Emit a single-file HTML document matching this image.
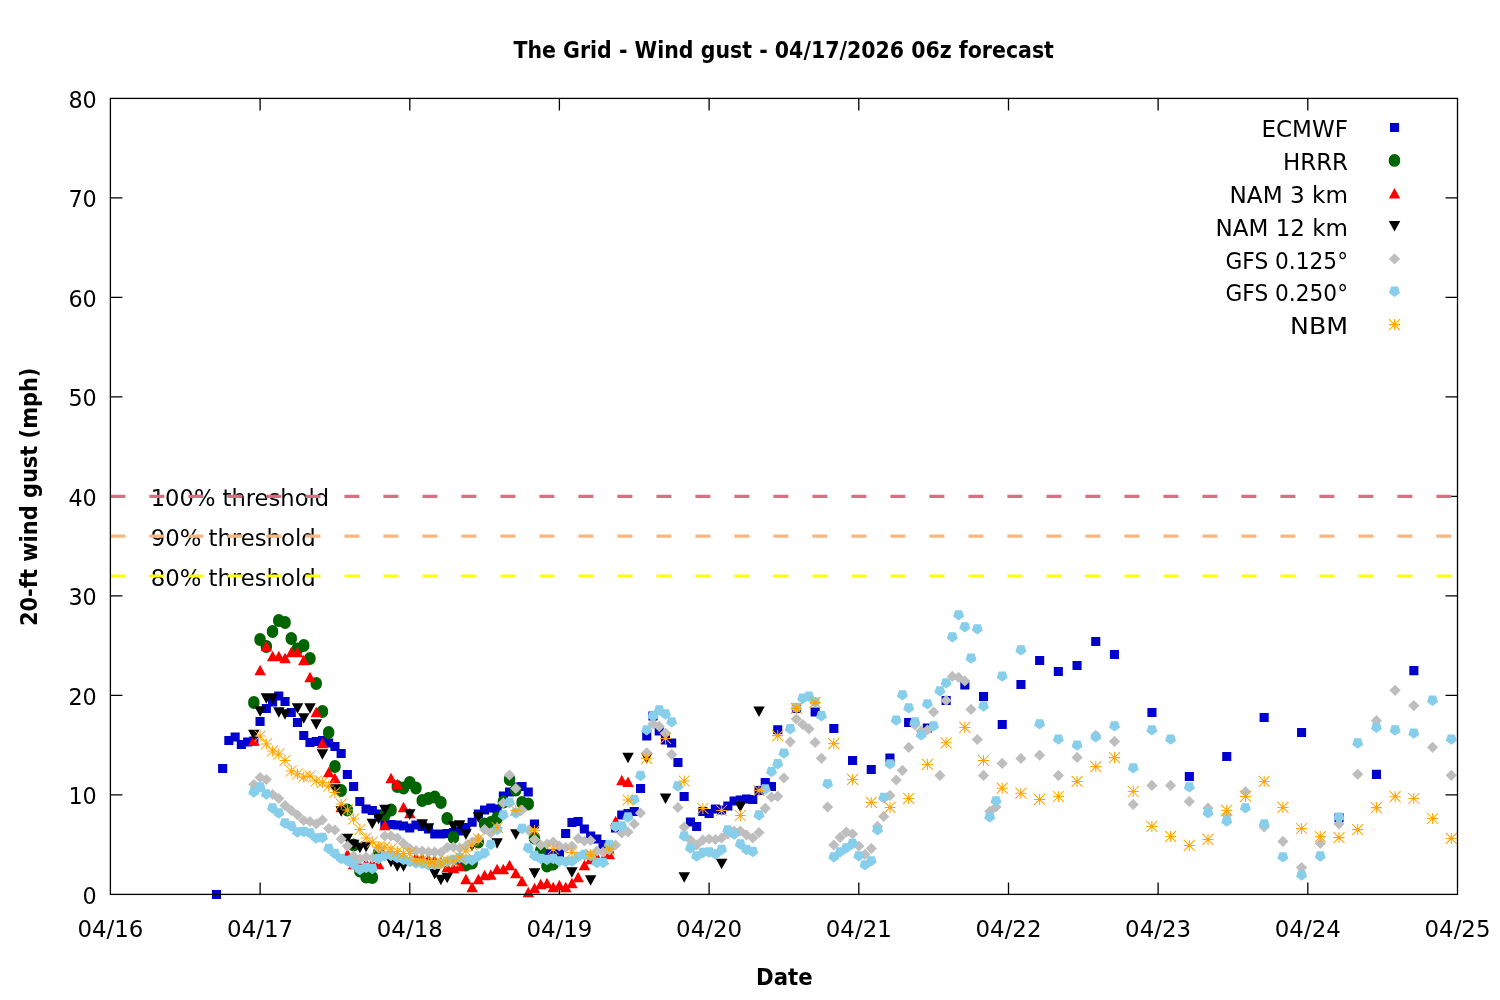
<!DOCTYPE html>
<html lang="en"><head><meta charset="utf-8"><title>The Grid - Wind gust - 04/17/2026 06z forecast</title>
<style>html,body{margin:0;padding:0;background:#fff}body{width:1500px;height:1000px;overflow:hidden}svg{display:block}text{font-family:'DejaVu Sans','Liberation Sans',sans-serif;fill:#000}</style>
</head><body>
<svg width="1500" height="1000" viewBox="0 0 1500 1000">
<rect width="1500" height="1000" fill="#fff"/>
<path d="M260.1 894.4v-12M260.1 98.4v12M409.8 894.4v-12M409.8 98.4v12M559.4 894.4v-12M559.4 98.4v12M709.1 894.4v-12M709.1 98.4v12M858.8 894.4v-12M858.8 98.4v12M1008.5 894.4v-12M1008.5 98.4v12M1158.1 894.4v-12M1158.1 98.4v12M1307.8 894.4v-12M1307.8 98.4v12M110.4 794.9h12M1457.5 794.9h-12M110.4 695.4h12M1457.5 695.4h-12M110.4 595.9h12M1457.5 595.9h-12M110.4 496.4h12M1457.5 496.4h-12M110.4 396.9h12M1457.5 396.9h-12M110.4 297.4h12M1457.5 297.4h-12M110.4 197.9h12M1457.5 197.9h-12" stroke="#000" stroke-width="1.3" fill="none"/>
<g font-size="23.5">
<text x="96.8" y="903.8" text-anchor="end" textLength="14.2" lengthAdjust="spacingAndGlyphs">0</text>
<text x="96.8" y="804.3" text-anchor="end" textLength="28.4" lengthAdjust="spacingAndGlyphs">10</text>
<text x="96.8" y="704.8" text-anchor="end" textLength="28.4" lengthAdjust="spacingAndGlyphs">20</text>
<text x="96.8" y="605.3" text-anchor="end" textLength="28.4" lengthAdjust="spacingAndGlyphs">30</text>
<text x="96.8" y="505.8" text-anchor="end" textLength="28.4" lengthAdjust="spacingAndGlyphs">40</text>
<text x="96.8" y="406.3" text-anchor="end" textLength="28.4" lengthAdjust="spacingAndGlyphs">50</text>
<text x="96.8" y="306.8" text-anchor="end" textLength="28.4" lengthAdjust="spacingAndGlyphs">60</text>
<text x="96.8" y="207.3" text-anchor="end" textLength="28.4" lengthAdjust="spacingAndGlyphs">70</text>
<text x="96.8" y="107.8" text-anchor="end" textLength="28.4" lengthAdjust="spacingAndGlyphs">80</text>
<text x="110.4" y="936.6" text-anchor="middle" textLength="66" lengthAdjust="spacingAndGlyphs">04/16</text>
<text x="260.1" y="936.6" text-anchor="middle" textLength="66" lengthAdjust="spacingAndGlyphs">04/17</text>
<text x="409.8" y="936.6" text-anchor="middle" textLength="66" lengthAdjust="spacingAndGlyphs">04/18</text>
<text x="559.4" y="936.6" text-anchor="middle" textLength="66" lengthAdjust="spacingAndGlyphs">04/19</text>
<text x="709.1" y="936.6" text-anchor="middle" textLength="66" lengthAdjust="spacingAndGlyphs">04/20</text>
<text x="858.8" y="936.6" text-anchor="middle" textLength="66" lengthAdjust="spacingAndGlyphs">04/21</text>
<text x="1008.5" y="936.6" text-anchor="middle" textLength="66" lengthAdjust="spacingAndGlyphs">04/22</text>
<text x="1158.1" y="936.6" text-anchor="middle" textLength="66" lengthAdjust="spacingAndGlyphs">04/23</text>
<text x="1307.8" y="936.6" text-anchor="middle" textLength="66" lengthAdjust="spacingAndGlyphs">04/24</text>
<text x="1457.5" y="936.6" text-anchor="middle" textLength="66" lengthAdjust="spacingAndGlyphs">04/25</text>
</g>
<g font-size="23.5">
<text x="150.7" y="505.9" textLength="178.5" lengthAdjust="spacingAndGlyphs">100% threshold</text>
<text x="150.7" y="545.7" textLength="165" lengthAdjust="spacingAndGlyphs">90% threshold</text>
<text x="150.7" y="585.5" textLength="165" lengthAdjust="spacingAndGlyphs">80% threshold</text>
</g>
<line x1="110.4" y1="496.4" x2="1457.5" y2="496.4" stroke="#dc6e82" stroke-width="3.2" stroke-dasharray="15 24"/>
<line x1="110.4" y1="536.2" x2="1457.5" y2="536.2" stroke="#f7b77f" stroke-width="3.2" stroke-dasharray="15 24"/>
<line x1="110.4" y1="576" x2="1457.5" y2="576" stroke="#ffff00" stroke-width="3.2" stroke-dasharray="15 24"/>
<g font-size="23.5" text-anchor="end">
<text x="1348" y="137.1" textLength="86.5" lengthAdjust="spacingAndGlyphs">ECMWF</text>
<text x="1348" y="169.9" textLength="65" lengthAdjust="spacingAndGlyphs">HRRR</text>
<text x="1348" y="202.8" textLength="118.5" lengthAdjust="spacingAndGlyphs">NAM 3 km</text>
<text x="1348" y="235.6" textLength="132.5" lengthAdjust="spacingAndGlyphs">NAM 12 km</text>
<text x="1348" y="268.5" textLength="122.5" lengthAdjust="spacingAndGlyphs">GFS 0.125°</text>
<text x="1348" y="301.3" textLength="122.5" lengthAdjust="spacingAndGlyphs">GFS 0.250°</text>
<text x="1348" y="334.1" textLength="58" lengthAdjust="spacingAndGlyphs">NBM</text>
</g>
<path d="M1390 123h9.1v9.1h-9.1zM211.9 890h9.1v9.1h-9.1zM218.1 764h9.1v9.1h-9.1zM224.3 736h9.1v9.1h-9.1zM230.6 732.5h9.1v9.1h-9.1zM236.8 740h9.1v9.1h-9.1zM243.1 737.5h9.1v9.1h-9.1zM249.3 736.5h9.1v9.1h-9.1zM255.5 717h9.1v9.1h-9.1zM261.8 704h9.1v9.1h-9.1zM268 697.5h9.1v9.1h-9.1zM274.2 691.5h9.1v9.1h-9.1zM280.5 697h9.1v9.1h-9.1zM286.7 708h9.1v9.1h-9.1zM292.9 718h9.1v9.1h-9.1zM299.2 731h9.1v9.1h-9.1zM305.4 738h9.1v9.1h-9.1zM311.7 737h9.1v9.1h-9.1zM317.9 736h9.1v9.1h-9.1zM324.1 738.5h9.1v9.1h-9.1zM330.4 742h9.1v9.1h-9.1zM336.6 749h9.1v9.1h-9.1zM342.8 770h9.1v9.1h-9.1zM349.1 782h9.1v9.1h-9.1zM355.3 797h9.1v9.1h-9.1zM361.5 804.5h9.1v9.1h-9.1zM367.8 806h9.1v9.1h-9.1zM374 809.5h9.1v9.1h-9.1zM380.3 819.5h9.1v9.1h-9.1zM386.5 820h9.1v9.1h-9.1zM392.7 820.5h9.1v9.1h-9.1zM399 821.5h9.1v9.1h-9.1zM405.2 823.5h9.1v9.1h-9.1zM411.4 820.5h9.1v9.1h-9.1zM417.7 822h9.1v9.1h-9.1zM423.9 824.5h9.1v9.1h-9.1zM430.2 829.5h9.1v9.1h-9.1zM436.4 829.5h9.1v9.1h-9.1zM442.6 829h9.1v9.1h-9.1zM448.9 828h9.1v9.1h-9.1zM455.1 826.5h9.1v9.1h-9.1zM461.3 823.1h9.1v9.1h-9.1zM467.6 817.7h9.1v9.1h-9.1zM473.8 809.5h9.1v9.1h-9.1zM480 805.5h9.1v9.1h-9.1zM486.3 803.5h9.1v9.1h-9.1zM492.5 804.5h9.1v9.1h-9.1zM498.8 791.5h9.1v9.1h-9.1zM505 787.5h9.1v9.1h-9.1zM511.2 782.5h9.1v9.1h-9.1zM517.5 782h9.1v9.1h-9.1zM523.7 787.5h9.1v9.1h-9.1zM529.9 819.5h9.1v9.1h-9.1zM536.2 847.5h9.1v9.1h-9.1zM542.4 849h9.1v9.1h-9.1zM548.6 849h9.1v9.1h-9.1zM554.9 849h9.1v9.1h-9.1zM561.1 829h9.1v9.1h-9.1zM567.4 818h9.1v9.1h-9.1zM573.6 817h9.1v9.1h-9.1zM579.8 824.5h9.1v9.1h-9.1zM586.1 831.5h9.1v9.1h-9.1zM592.3 834.5h9.1v9.1h-9.1zM598.5 840h9.1v9.1h-9.1zM604.8 844.5h9.1v9.1h-9.1zM611 823.5h9.1v9.1h-9.1zM617.2 810.5h9.1v9.1h-9.1zM623.5 809.1h9.1v9.1h-9.1zM629.7 807h9.1v9.1h-9.1zM636 784h9.1v9.1h-9.1zM642.2 731.5h9.1v9.1h-9.1zM648.4 711.5h9.1v9.1h-9.1zM654.7 726.5h9.1v9.1h-9.1zM660.9 735.5h9.1v9.1h-9.1zM667.1 738.5h9.1v9.1h-9.1zM673.4 757.9h9.1v9.1h-9.1zM679.6 792h9.1v9.1h-9.1zM685.9 817.5h9.1v9.1h-9.1zM692.1 822h9.1v9.1h-9.1zM698.3 807h9.1v9.1h-9.1zM704.6 809h9.1v9.1h-9.1zM710.8 804.5h9.1v9.1h-9.1zM717 805.5h9.1v9.1h-9.1zM723.3 801.5h9.1v9.1h-9.1zM729.5 796.5h9.1v9.1h-9.1zM735.7 795.5h9.1v9.1h-9.1zM742 794.5h9.1v9.1h-9.1zM748.2 795h9.1v9.1h-9.1zM754.5 786h9.1v9.1h-9.1zM760.7 778h9.1v9.1h-9.1zM766.9 782h9.1v9.1h-9.1zM773.2 725.2h9.1v9.1h-9.1zM791.9 703.8h9.1v9.1h-9.1zM810.6 707.5h9.1v9.1h-9.1zM829.3 723.9h9.1v9.1h-9.1zM848 755.9h9.1v9.1h-9.1zM866.7 764.9h9.1v9.1h-9.1zM885.4 753.5h9.1v9.1h-9.1zM904.1 717.9h9.1v9.1h-9.1zM922.8 723.5h9.1v9.1h-9.1zM941.6 695.9h9.1v9.1h-9.1zM960.3 680.5h9.1v9.1h-9.1zM979 691.9h9.1v9.1h-9.1zM997.7 719.9h9.1v9.1h-9.1zM1016.4 679.9h9.1v9.1h-9.1zM1035.1 655.9h9.1v9.1h-9.1zM1053.8 666.9h9.1v9.1h-9.1zM1072.5 660.9h9.1v9.1h-9.1zM1091.2 636.9h9.1v9.1h-9.1zM1109.9 649.9h9.1v9.1h-9.1zM1147.4 707.9h9.1v9.1h-9.1zM1184.8 771.9h9.1v9.1h-9.1zM1222.2 751.9h9.1v9.1h-9.1zM1259.6 712.9h9.1v9.1h-9.1zM1297 727.9h9.1v9.1h-9.1zM1334.5 813.2h9.1v9.1h-9.1zM1371.9 769.8h9.1v9.1h-9.1zM1409.3 666.1h9.1v9.1h-9.1z" fill="#0000cd"/>
<path d="M1388.8 160.4a5.7 5.7 0 1 0 11.3 0a5.7 5.7 0 1 0 -11.3 0zM248.2 702.5a5.7 5.7 0 1 0 11.3 0a5.7 5.7 0 1 0 -11.3 0zM254.4 639.5a5.7 5.7 0 1 0 11.3 0a5.7 5.7 0 1 0 -11.3 0zM260.7 646.5a5.7 5.7 0 1 0 11.3 0a5.7 5.7 0 1 0 -11.3 0zM266.9 631.5a5.7 5.7 0 1 0 11.3 0a5.7 5.7 0 1 0 -11.3 0zM273.1 620.5a5.7 5.7 0 1 0 11.3 0a5.7 5.7 0 1 0 -11.3 0zM279.4 622.5a5.7 5.7 0 1 0 11.3 0a5.7 5.7 0 1 0 -11.3 0zM285.6 638.5a5.7 5.7 0 1 0 11.3 0a5.7 5.7 0 1 0 -11.3 0zM291.8 649a5.7 5.7 0 1 0 11.3 0a5.7 5.7 0 1 0 -11.3 0zM298.1 645.5a5.7 5.7 0 1 0 11.3 0a5.7 5.7 0 1 0 -11.3 0zM304.3 658.5a5.7 5.7 0 1 0 11.3 0a5.7 5.7 0 1 0 -11.3 0zM310.6 683.5a5.7 5.7 0 1 0 11.3 0a5.7 5.7 0 1 0 -11.3 0zM316.8 711.5a5.7 5.7 0 1 0 11.3 0a5.7 5.7 0 1 0 -11.3 0zM323 732.5a5.7 5.7 0 1 0 11.3 0a5.7 5.7 0 1 0 -11.3 0zM329.3 766.5a5.7 5.7 0 1 0 11.3 0a5.7 5.7 0 1 0 -11.3 0zM335.5 790.5a5.7 5.7 0 1 0 11.3 0a5.7 5.7 0 1 0 -11.3 0zM341.7 810a5.7 5.7 0 1 0 11.3 0a5.7 5.7 0 1 0 -11.3 0zM348 845a5.7 5.7 0 1 0 11.3 0a5.7 5.7 0 1 0 -11.3 0zM354.2 871a5.7 5.7 0 1 0 11.3 0a5.7 5.7 0 1 0 -11.3 0zM360.4 877a5.7 5.7 0 1 0 11.3 0a5.7 5.7 0 1 0 -11.3 0zM366.7 877.5a5.7 5.7 0 1 0 11.3 0a5.7 5.7 0 1 0 -11.3 0zM372.9 853a5.7 5.7 0 1 0 11.3 0a5.7 5.7 0 1 0 -11.3 0zM379.2 815a5.7 5.7 0 1 0 11.3 0a5.7 5.7 0 1 0 -11.3 0zM385.4 810a5.7 5.7 0 1 0 11.3 0a5.7 5.7 0 1 0 -11.3 0zM391.6 786.5a5.7 5.7 0 1 0 11.3 0a5.7 5.7 0 1 0 -11.3 0zM397.9 788a5.7 5.7 0 1 0 11.3 0a5.7 5.7 0 1 0 -11.3 0zM404.1 782.5a5.7 5.7 0 1 0 11.3 0a5.7 5.7 0 1 0 -11.3 0zM410.3 788a5.7 5.7 0 1 0 11.3 0a5.7 5.7 0 1 0 -11.3 0zM416.6 800.5a5.7 5.7 0 1 0 11.3 0a5.7 5.7 0 1 0 -11.3 0zM422.8 798.5a5.7 5.7 0 1 0 11.3 0a5.7 5.7 0 1 0 -11.3 0zM429.1 797a5.7 5.7 0 1 0 11.3 0a5.7 5.7 0 1 0 -11.3 0zM435.3 802.5a5.7 5.7 0 1 0 11.3 0a5.7 5.7 0 1 0 -11.3 0zM441.5 818.5a5.7 5.7 0 1 0 11.3 0a5.7 5.7 0 1 0 -11.3 0zM447.8 837.5a5.7 5.7 0 1 0 11.3 0a5.7 5.7 0 1 0 -11.3 0zM454 860a5.7 5.7 0 1 0 11.3 0a5.7 5.7 0 1 0 -11.3 0zM460.2 865a5.7 5.7 0 1 0 11.3 0a5.7 5.7 0 1 0 -11.3 0zM466.5 863a5.7 5.7 0 1 0 11.3 0a5.7 5.7 0 1 0 -11.3 0zM472.7 842a5.7 5.7 0 1 0 11.3 0a5.7 5.7 0 1 0 -11.3 0zM478.9 824a5.7 5.7 0 1 0 11.3 0a5.7 5.7 0 1 0 -11.3 0zM485.2 822.5a5.7 5.7 0 1 0 11.3 0a5.7 5.7 0 1 0 -11.3 0zM491.4 818a5.7 5.7 0 1 0 11.3 0a5.7 5.7 0 1 0 -11.3 0zM497.7 802a5.7 5.7 0 1 0 11.3 0a5.7 5.7 0 1 0 -11.3 0zM503.9 779.5a5.7 5.7 0 1 0 11.3 0a5.7 5.7 0 1 0 -11.3 0zM510.1 790a5.7 5.7 0 1 0 11.3 0a5.7 5.7 0 1 0 -11.3 0zM516.4 802.5a5.7 5.7 0 1 0 11.3 0a5.7 5.7 0 1 0 -11.3 0zM522.6 804a5.7 5.7 0 1 0 11.3 0a5.7 5.7 0 1 0 -11.3 0zM528.8 838a5.7 5.7 0 1 0 11.3 0a5.7 5.7 0 1 0 -11.3 0zM535.1 850.5a5.7 5.7 0 1 0 11.3 0a5.7 5.7 0 1 0 -11.3 0zM541.3 866a5.7 5.7 0 1 0 11.3 0a5.7 5.7 0 1 0 -11.3 0zM547.5 864a5.7 5.7 0 1 0 11.3 0a5.7 5.7 0 1 0 -11.3 0z" fill="#006400"/>
<path d="M1394.5 188l5.8 10.5h-11.5zM253.8 735.2l5.8 10.5h-11.5zM260.1 664.8l5.8 10.5h-11.5zM266.3 640.8l5.8 10.5h-11.5zM272.6 650.8l5.8 10.5h-11.5zM278.8 650.8l5.8 10.5h-11.5zM285 652.8l5.8 10.5h-11.5zM291.3 646.8l5.8 10.5h-11.5zM297.5 646.8l5.8 10.5h-11.5zM303.7 654.8l5.8 10.5h-11.5zM310 671.8l5.8 10.5h-11.5zM316.2 706.8l5.8 10.5h-11.5zM322.4 737.8l5.8 10.5h-11.5zM328.7 766.8l5.8 10.5h-11.5zM334.9 772.8l5.8 10.5h-11.5zM341.2 801.8l5.8 10.5h-11.5zM347.4 848.8l5.8 10.5h-11.5zM353.6 858.8l5.8 10.5h-11.5zM359.9 860.8l5.8 10.5h-11.5zM366.1 857.8l5.8 10.5h-11.5zM372.3 857.8l5.8 10.5h-11.5zM378.6 858.8l5.8 10.5h-11.5zM384.8 819.8l5.8 10.5h-11.5zM391 772.8l5.8 10.5h-11.5zM397.3 778.8l5.8 10.5h-11.5zM403.5 801.8l5.8 10.5h-11.5zM409.8 807.8l5.8 10.5h-11.5zM416 851.8l5.8 10.5h-11.5zM422.2 852.8l5.8 10.5h-11.5zM428.5 853.8l5.8 10.5h-11.5zM434.7 854.8l5.8 10.5h-11.5zM440.9 856.8l5.8 10.5h-11.5zM447.2 861.8l5.8 10.5h-11.5zM453.4 862.8l5.8 10.5h-11.5zM459.6 860.8l5.8 10.5h-11.5zM465.9 873.8l5.8 10.5h-11.5zM472.1 881.8l5.8 10.5h-11.5zM478.4 873.8l5.8 10.5h-11.5zM484.6 869.8l5.8 10.5h-11.5zM490.8 869.2l5.8 10.5h-11.5zM497.1 863.8l5.8 10.5h-11.5zM503.3 863.8l5.8 10.5h-11.5zM509.5 859.8l5.8 10.5h-11.5zM515.8 867.8l5.8 10.5h-11.5zM522 875.8l5.8 10.5h-11.5zM528.3 886.8l5.8 10.5h-11.5zM534.5 882.8l5.8 10.5h-11.5zM540.7 878.8l5.8 10.5h-11.5zM547 877.8l5.8 10.5h-11.5zM553.2 881.8l5.8 10.5h-11.5zM559.4 879.8l5.8 10.5h-11.5zM565.7 881.8l5.8 10.5h-11.5zM571.9 877.8l5.8 10.5h-11.5zM578.1 871.8l5.8 10.5h-11.5zM584.4 859.8l5.8 10.5h-11.5zM590.6 853.8l5.8 10.5h-11.5zM596.9 851.8l5.8 10.5h-11.5zM603.1 853.8l5.8 10.5h-11.5zM609.3 848.8l5.8 10.5h-11.5zM615.6 815.8l5.8 10.5h-11.5zM621.8 774.8l5.8 10.5h-11.5zM628 776.4l5.8 10.5h-11.5z" fill="#ff0000"/>
<path d="M1394.5 231.4l5.8 -10.5h-11.5zM253.8 740.2l5.8 -10.5h-11.5zM260.1 716.8l5.8 -10.5h-11.5zM266.3 703.8l5.8 -10.5h-11.5zM272.6 703.8l5.8 -10.5h-11.5zM278.8 717.8l5.8 -10.5h-11.5zM285 719.8l5.8 -10.5h-11.5zM297.5 713.8l5.8 -10.5h-11.5zM303.7 723.8l5.8 -10.5h-11.5zM310 713.8l5.8 -10.5h-11.5zM316.2 729.8l5.8 -10.5h-11.5zM322.4 759.8l5.8 -10.5h-11.5zM334.9 794.8l5.8 -10.5h-11.5zM341.2 816.8l5.8 -10.5h-11.5zM347.4 844.2l5.8 -10.5h-11.5zM353.6 850.2l5.8 -10.5h-11.5zM359.9 853.2l5.8 -10.5h-11.5zM366.1 852.2l5.8 -10.5h-11.5zM372.3 829.2l5.8 -10.5h-11.5zM378.6 824.2l5.8 -10.5h-11.5zM384.8 815.2l5.8 -10.5h-11.5zM391 867.2l5.8 -10.5h-11.5zM397.3 871.8l5.8 -10.5h-11.5zM403.5 871.8l5.8 -10.5h-11.5zM409.8 819.8l5.8 -10.5h-11.5zM422.2 829.8l5.8 -10.5h-11.5zM428.5 833.8l5.8 -10.5h-11.5zM434.7 879.2l5.8 -10.5h-11.5zM440.9 885.2l5.8 -10.5h-11.5zM447.2 883.2l5.8 -10.5h-11.5zM453.4 831.8l5.8 -10.5h-11.5zM459.6 830.8l5.8 -10.5h-11.5zM465.9 839.8l5.8 -10.5h-11.5zM472.1 851.2l5.8 -10.5h-11.5zM478.4 822.8l5.8 -10.5h-11.5zM497.1 848.8l5.8 -10.5h-11.5zM515.8 839.8l5.8 -10.5h-11.5zM534.5 878.8l5.8 -10.5h-11.5zM571.9 877.8l5.8 -10.5h-11.5zM590.6 885.8l5.8 -10.5h-11.5zM628 763.2l5.8 -10.5h-11.5zM646.7 763.6l5.8 -10.5h-11.5zM665.5 804l5.8 -10.5h-11.5zM684.2 882.8l5.8 -10.5h-11.5zM721.6 869.2l5.8 -10.5h-11.5zM740.3 812.2l5.8 -10.5h-11.5zM759 717l5.8 -10.5h-11.5z" fill="#000000"/>
<path d="M1394.5 253.4l5.6 5.6l-5.6 5.6l-5.6 -5.6zM253.8 778.9l5.6 5.6l-5.6 5.6l-5.6 -5.6zM260.1 771.9l5.6 5.6l-5.6 5.6l-5.6 -5.6zM266.3 773.9l5.6 5.6l-5.6 5.6l-5.6 -5.6zM272.6 788.9l5.6 5.6l-5.6 5.6l-5.6 -5.6zM278.8 792.9l5.6 5.6l-5.6 5.6l-5.6 -5.6zM285 799.9l5.6 5.6l-5.6 5.6l-5.6 -5.6zM291.3 804.9l5.6 5.6l-5.6 5.6l-5.6 -5.6zM297.5 809.4l5.6 5.6l-5.6 5.6l-5.6 -5.6zM303.7 814.9l5.6 5.6l-5.6 5.6l-5.6 -5.6zM310 815.9l5.6 5.6l-5.6 5.6l-5.6 -5.6zM316.2 818.4l5.6 5.6l-5.6 5.6l-5.6 -5.6zM322.4 814.4l5.6 5.6l-5.6 5.6l-5.6 -5.6zM328.7 822.9l5.6 5.6l-5.6 5.6l-5.6 -5.6zM334.9 824.4l5.6 5.6l-5.6 5.6l-5.6 -5.6zM341.2 833.4l5.6 5.6l-5.6 5.6l-5.6 -5.6zM347.4 840.4l5.6 5.6l-5.6 5.6l-5.6 -5.6zM353.6 850.4l5.6 5.6l-5.6 5.6l-5.6 -5.6zM359.9 853.4l5.6 5.6l-5.6 5.6l-5.6 -5.6zM366.1 851.4l5.6 5.6l-5.6 5.6l-5.6 -5.6zM372.3 852.4l5.6 5.6l-5.6 5.6l-5.6 -5.6zM378.6 842.4l5.6 5.6l-5.6 5.6l-5.6 -5.6zM384.8 830.4l5.6 5.6l-5.6 5.6l-5.6 -5.6zM391 830.4l5.6 5.6l-5.6 5.6l-5.6 -5.6zM397.3 832.4l5.6 5.6l-5.6 5.6l-5.6 -5.6zM403.5 837.9l5.6 5.6l-5.6 5.6l-5.6 -5.6zM409.8 842.9l5.6 5.6l-5.6 5.6l-5.6 -5.6zM416 844.9l5.6 5.6l-5.6 5.6l-5.6 -5.6zM422.2 845.4l5.6 5.6l-5.6 5.6l-5.6 -5.6zM428.5 846.4l5.6 5.6l-5.6 5.6l-5.6 -5.6zM434.7 846.4l5.6 5.6l-5.6 5.6l-5.6 -5.6zM440.9 846.9l5.6 5.6l-5.6 5.6l-5.6 -5.6zM447.2 841.9l5.6 5.6l-5.6 5.6l-5.6 -5.6zM453.4 841.4l5.6 5.6l-5.6 5.6l-5.6 -5.6zM459.6 842.4l5.6 5.6l-5.6 5.6l-5.6 -5.6zM465.9 840.4l5.6 5.6l-5.6 5.6l-5.6 -5.6zM472.1 836.4l5.6 5.6l-5.6 5.6l-5.6 -5.6zM478.4 832.8l5.6 5.6l-5.6 5.6l-5.6 -5.6zM484.6 823.9l5.6 5.6l-5.6 5.6l-5.6 -5.6zM490.8 827.4l5.6 5.6l-5.6 5.6l-5.6 -5.6zM497.1 822.4l5.6 5.6l-5.6 5.6l-5.6 -5.6zM503.3 797.4l5.6 5.6l-5.6 5.6l-5.6 -5.6zM509.5 769.4l5.6 5.6l-5.6 5.6l-5.6 -5.6zM515.8 782.9l5.6 5.6l-5.6 5.6l-5.6 -5.6zM522 804.4l5.6 5.6l-5.6 5.6l-5.6 -5.6zM528.3 824.4l5.6 5.6l-5.6 5.6l-5.6 -5.6zM534.5 833.9l5.6 5.6l-5.6 5.6l-5.6 -5.6zM540.7 839.4l5.6 5.6l-5.6 5.6l-5.6 -5.6zM547 838.4l5.6 5.6l-5.6 5.6l-5.6 -5.6zM553.2 836.4l5.6 5.6l-5.6 5.6l-5.6 -5.6zM559.4 840.4l5.6 5.6l-5.6 5.6l-5.6 -5.6zM565.7 841.9l5.6 5.6l-5.6 5.6l-5.6 -5.6zM571.9 840.4l5.6 5.6l-5.6 5.6l-5.6 -5.6zM578.1 832.9l5.6 5.6l-5.6 5.6l-5.6 -5.6zM584.4 835.4l5.6 5.6l-5.6 5.6l-5.6 -5.6zM590.6 834.9l5.6 5.6l-5.6 5.6l-5.6 -5.6zM596.9 845.4l5.6 5.6l-5.6 5.6l-5.6 -5.6zM603.1 846.4l5.6 5.6l-5.6 5.6l-5.6 -5.6zM609.3 844.4l5.6 5.6l-5.6 5.6l-5.6 -5.6zM615.6 839.4l5.6 5.6l-5.6 5.6l-5.6 -5.6zM621.8 827.4l5.6 5.6l-5.6 5.6l-5.6 -5.6zM628 826.4l5.6 5.6l-5.6 5.6l-5.6 -5.6zM634.3 818.4l5.6 5.6l-5.6 5.6l-5.6 -5.6zM640.5 807.4l5.6 5.6l-5.6 5.6l-5.6 -5.6zM646.7 747.2l5.6 5.6l-5.6 5.6l-5.6 -5.6zM653 718.4l5.6 5.6l-5.6 5.6l-5.6 -5.6zM659.2 720.8l5.6 5.6l-5.6 5.6l-5.6 -5.6zM665.5 727.4l5.6 5.6l-5.6 5.6l-5.6 -5.6zM671.7 748.8l5.6 5.6l-5.6 5.6l-5.6 -5.6zM677.9 801.9l5.6 5.6l-5.6 5.6l-5.6 -5.6zM684.2 821.4l5.6 5.6l-5.6 5.6l-5.6 -5.6zM690.4 834.4l5.6 5.6l-5.6 5.6l-5.6 -5.6zM696.6 839.4l5.6 5.6l-5.6 5.6l-5.6 -5.6zM702.9 834.4l5.6 5.6l-5.6 5.6l-5.6 -5.6zM709.1 833.4l5.6 5.6l-5.6 5.6l-5.6 -5.6zM715.3 833.9l5.6 5.6l-5.6 5.6l-5.6 -5.6zM721.6 832.4l5.6 5.6l-5.6 5.6l-5.6 -5.6zM727.8 828.4l5.6 5.6l-5.6 5.6l-5.6 -5.6zM734.1 825.4l5.6 5.6l-5.6 5.6l-5.6 -5.6zM740.3 825.4l5.6 5.6l-5.6 5.6l-5.6 -5.6zM746.5 829.4l5.6 5.6l-5.6 5.6l-5.6 -5.6zM752.8 832.4l5.6 5.6l-5.6 5.6l-5.6 -5.6zM759 826.9l5.6 5.6l-5.6 5.6l-5.6 -5.6zM765.2 802.7l5.6 5.6l-5.6 5.6l-5.6 -5.6zM771.5 791.4l5.6 5.6l-5.6 5.6l-5.6 -5.6zM777.7 790.7l5.6 5.6l-5.6 5.6l-5.6 -5.6zM783.9 772.4l5.6 5.6l-5.6 5.6l-5.6 -5.6zM790.2 736.2l5.6 5.6l-5.6 5.6l-5.6 -5.6zM796.4 713.4l5.6 5.6l-5.6 5.6l-5.6 -5.6zM802.7 718.9l5.6 5.6l-5.6 5.6l-5.6 -5.6zM808.9 723.3l5.6 5.6l-5.6 5.6l-5.6 -5.6zM815.1 736.8l5.6 5.6l-5.6 5.6l-5.6 -5.6zM821.4 752.7l5.6 5.6l-5.6 5.6l-5.6 -5.6zM827.6 801.4l5.6 5.6l-5.6 5.6l-5.6 -5.6zM833.8 839.4l5.6 5.6l-5.6 5.6l-5.6 -5.6zM840.1 831.8l5.6 5.6l-5.6 5.6l-5.6 -5.6zM846.3 826.4l5.6 5.6l-5.6 5.6l-5.6 -5.6zM852.6 828.4l5.6 5.6l-5.6 5.6l-5.6 -5.6zM858.8 840.4l5.6 5.6l-5.6 5.6l-5.6 -5.6zM865 848.8l5.6 5.6l-5.6 5.6l-5.6 -5.6zM871.3 842.8l5.6 5.6l-5.6 5.6l-5.6 -5.6zM877.5 820.8l5.6 5.6l-5.6 5.6l-5.6 -5.6zM883.7 810.8l5.6 5.6l-5.6 5.6l-5.6 -5.6zM890 789.8l5.6 5.6l-5.6 5.6l-5.6 -5.6zM896.2 774.4l5.6 5.6l-5.6 5.6l-5.6 -5.6zM902.4 764.8l5.6 5.6l-5.6 5.6l-5.6 -5.6zM908.7 741.8l5.6 5.6l-5.6 5.6l-5.6 -5.6zM914.9 719.4l5.6 5.6l-5.6 5.6l-5.6 -5.6zM921.2 725.4l5.6 5.6l-5.6 5.6l-5.6 -5.6zM927.4 724.4l5.6 5.6l-5.6 5.6l-5.6 -5.6zM933.6 706.4l5.6 5.6l-5.6 5.6l-5.6 -5.6zM939.9 769.8l5.6 5.6l-5.6 5.6l-5.6 -5.6zM946.1 694.8l5.6 5.6l-5.6 5.6l-5.6 -5.6zM952.3 670.8l5.6 5.6l-5.6 5.6l-5.6 -5.6zM958.6 671.8l5.6 5.6l-5.6 5.6l-5.6 -5.6zM964.8 675.4l5.6 5.6l-5.6 5.6l-5.6 -5.6zM971 703.8l5.6 5.6l-5.6 5.6l-5.6 -5.6zM977.3 733.9l5.6 5.6l-5.6 5.6l-5.6 -5.6zM983.5 769.8l5.6 5.6l-5.6 5.6l-5.6 -5.6zM989.8 805.8l5.6 5.6l-5.6 5.6l-5.6 -5.6zM996 801.4l5.6 5.6l-5.6 5.6l-5.6 -5.6zM1002.2 757.8l5.6 5.6l-5.6 5.6l-5.6 -5.6zM1020.9 752.8l5.6 5.6l-5.6 5.6l-5.6 -5.6zM1039.6 749.6l5.6 5.6l-5.6 5.6l-5.6 -5.6zM1058.4 769.8l5.6 5.6l-5.6 5.6l-5.6 -5.6zM1077.1 751.8l5.6 5.6l-5.6 5.6l-5.6 -5.6zM1095.8 729.8l5.6 5.6l-5.6 5.6l-5.6 -5.6zM1114.5 735.8l5.6 5.6l-5.6 5.6l-5.6 -5.6zM1133.2 798.8l5.6 5.6l-5.6 5.6l-5.6 -5.6zM1151.9 779.8l5.6 5.6l-5.6 5.6l-5.6 -5.6zM1170.6 779.8l5.6 5.6l-5.6 5.6l-5.6 -5.6zM1189.3 795.8l5.6 5.6l-5.6 5.6l-5.6 -5.6zM1208 802.6l5.6 5.6l-5.6 5.6l-5.6 -5.6zM1226.7 809.4l5.6 5.6l-5.6 5.6l-5.6 -5.6zM1245.5 786.1l5.6 5.6l-5.6 5.6l-5.6 -5.6zM1264.2 821.4l5.6 5.6l-5.6 5.6l-5.6 -5.6zM1282.9 835.8l5.6 5.6l-5.6 5.6l-5.6 -5.6zM1301.6 862l5.6 5.6l-5.6 5.6l-5.6 -5.6zM1320.3 837.9l5.6 5.6l-5.6 5.6l-5.6 -5.6zM1339 818.4l5.6 5.6l-5.6 5.6l-5.6 -5.6zM1357.7 768.7l5.6 5.6l-5.6 5.6l-5.6 -5.6zM1376.4 715.1l5.6 5.6l-5.6 5.6l-5.6 -5.6zM1395.1 684.7l5.6 5.6l-5.6 5.6l-5.6 -5.6zM1413.8 700l5.6 5.6l-5.6 5.6l-5.6 -5.6zM1432.6 741.7l5.6 5.6l-5.6 5.6l-5.6 -5.6zM1451.3 769.7l5.6 5.6l-5.6 5.6l-5.6 -5.6z" fill="#bebebe"/>
<path d="M1394.5 297L1389 293L1391.1 286.6L1397.9 286.6L1400 293zM253.8 797.7L248.3 793.7L250.4 787.3L257.3 787.3L259.4 793.7zM260.1 792.7L254.6 788.7L256.7 782.3L263.5 782.3L265.6 788.7zM266.3 799.7L260.8 795.7L262.9 789.3L269.7 789.3L271.8 795.7zM272.6 813.7L267 809.7L269.1 803.3L276 803.3L278.1 809.7zM278.8 818.7L273.3 814.7L275.4 808.3L282.2 808.3L284.3 814.7zM285 828.7L279.5 824.7L281.6 818.3L288.4 818.3L290.5 824.7zM291.3 831.7L285.7 827.7L287.9 821.3L294.7 821.3L296.8 827.7zM297.5 837.7L292 833.7L294.1 827.3L300.9 827.3L303 833.7zM303.7 837.2L298.2 833.2L300.3 826.8L307.1 826.8L309.2 833.2zM310 838.7L304.5 834.7L306.6 828.3L313.4 828.3L315.5 834.7zM316.2 843.7L310.7 839.7L312.8 833.3L319.6 833.3L321.7 839.7zM322.4 843.2L316.9 839.2L319 832.8L325.9 832.8L328 839.2zM328.7 854.2L323.2 850.2L325.3 843.8L332.1 843.8L334.2 850.2zM334.9 859.2L329.4 855.2L331.5 848.8L338.3 848.8L340.4 855.2zM341.2 864.2L335.6 860.2L337.7 853.8L344.6 853.8L346.7 860.2zM347.4 866.2L341.9 862.2L344 855.8L350.8 855.8L352.9 862.2zM353.6 870.2L348.1 866.2L350.2 859.8L357 859.8L359.1 866.2zM359.9 875.2L354.3 871.2L356.5 864.8L363.3 864.8L365.4 871.2zM366.1 873.2L360.6 869.2L362.7 862.8L369.5 862.8L371.6 869.2zM372.3 874.2L366.8 870.2L368.9 863.8L375.7 863.8L377.9 870.2zM378.6 864.2L373.1 860.2L375.2 853.8L382 853.8L384.1 860.2zM384.8 861.2L379.3 857.2L381.4 850.8L388.2 850.8L390.3 857.2zM391 861.2L385.5 857.2L387.6 850.8L394.5 850.8L396.6 857.2zM397.3 863.2L391.8 859.2L393.9 852.8L400.7 852.8L402.8 859.2zM403.5 865.2L398 861.2L400.1 854.8L406.9 854.8L409 861.2zM409.8 867.2L404.2 863.2L406.3 856.8L413.2 856.8L415.3 863.2zM416 868.7L410.5 864.7L412.6 858.3L419.4 858.3L421.5 864.7zM422.2 869.2L416.7 865.2L418.8 858.8L425.6 858.8L427.7 865.2zM428.5 870.7L422.9 866.7L425.1 860.3L431.9 860.3L434 866.7zM434.7 870.2L429.2 866.2L431.3 859.8L438.1 859.8L440.2 866.2zM440.9 869.2L435.4 865.2L437.5 858.8L444.3 858.8L446.5 865.2zM447.2 867.2L441.7 863.2L443.8 856.8L450.6 856.8L452.7 863.2zM453.4 865.2L447.9 861.2L450 854.8L456.8 854.8L458.9 861.2zM459.6 863.2L454.1 859.2L456.2 852.8L463.1 852.8L465.2 859.2zM465.9 865.2L460.4 861.2L462.5 854.8L469.3 854.8L471.4 861.2zM472.1 865.7L466.6 861.7L468.7 855.3L475.5 855.3L477.6 861.7zM478.4 861.7L472.8 857.7L474.9 851.3L481.8 851.3L483.9 857.7zM484.6 858.7L479.1 854.7L481.2 848.3L488 848.3L490.1 854.7zM490.8 850.2L485.3 846.2L487.4 839.8L494.2 839.8L496.3 846.2zM497.1 835.2L491.6 831.2L493.7 824.8L500.5 824.8L502.6 831.2zM503.3 820.7L497.8 816.7L499.9 810.3L506.7 810.3L508.8 816.7zM509.5 808.2L504 804.2L506.1 797.8L512.9 797.8L515.1 804.2zM515.8 818.7L510.3 814.7L512.4 808.3L519.2 808.3L521.3 814.7zM522 834.2L516.5 830.2L518.6 823.8L525.4 823.8L527.5 830.2zM528.3 853.7L522.7 849.7L524.8 843.3L531.7 843.3L533.8 849.7zM534.5 861.2L529 857.2L531.1 850.8L537.9 850.8L540 857.2zM540.7 864.2L535.2 860.2L537.3 853.8L544.1 853.8L546.2 860.2zM547 865.2L541.4 861.2L543.6 854.8L550.4 854.8L552.5 861.2zM553.2 864.2L547.7 860.2L549.8 853.8L556.6 853.8L558.7 860.2zM559.4 866.7L553.9 862.7L556 856.3L562.8 856.3L564.9 862.7zM565.7 867.2L560.2 863.2L562.3 856.8L569.1 856.8L571.2 863.2zM571.9 866.7L566.4 862.7L568.5 856.3L575.3 856.3L577.4 862.7zM578.1 862.2L572.6 858.2L574.7 851.8L581.6 851.8L583.7 858.2zM584.4 860.2L578.9 856.2L581 849.8L587.8 849.8L589.9 856.2zM590.6 861.2L585.1 857.2L587.2 850.8L594 850.8L596.1 857.2zM596.9 868.2L591.3 864.2L593.4 857.8L600.3 857.8L602.4 864.2zM603.1 868.2L597.6 864.2L599.7 857.8L606.5 857.8L608.6 864.2zM609.3 850.2L603.8 846.2L605.9 839.8L612.7 839.8L614.8 846.2zM615.6 832.2L610 828.2L612.2 821.8L619 821.8L621.1 828.2zM621.8 831.7L616.3 827.7L618.4 821.3L625.2 821.3L627.3 827.7zM628 822.7L622.5 818.7L624.6 812.3L631.4 812.3L633.6 818.7zM634.3 805.2L628.8 801.2L630.9 794.8L637.7 794.8L639.8 801.2zM640.5 781.2L635 777.2L637.1 770.8L643.9 770.8L646 777.2zM646.7 735.6L641.2 731.6L643.3 725.2L650.2 725.2L652.3 731.6zM653 721.7L647.5 717.7L649.6 711.3L656.4 711.3L658.5 717.7zM659.2 715.7L653.7 711.7L655.8 705.3L662.6 705.3L664.7 711.7zM665.5 719.7L659.9 715.7L662 709.3L668.9 709.3L671 715.7zM671.7 727.6L666.2 723.6L668.3 717.2L675.1 717.2L677.2 723.6zM677.9 791.7L672.4 787.7L674.5 781.3L681.3 781.3L683.4 787.7zM684.2 841.7L678.6 837.7L680.8 831.3L687.6 831.3L689.7 837.7zM690.4 853.7L684.9 849.7L687 843.3L693.8 843.3L695.9 849.7zM696.6 861.7L691.1 857.7L693.2 851.3L700 851.3L702.2 857.7zM702.9 858.2L697.4 854.2L699.5 847.8L706.3 847.8L708.4 854.2zM709.1 857.7L703.6 853.7L705.7 847.3L712.5 847.3L714.6 853.7zM715.3 859.7L709.8 855.7L711.9 849.3L718.8 849.3L720.9 855.7zM721.6 855.2L716.1 851.2L718.2 844.8L725 844.8L727.1 851.2zM727.8 835.7L722.3 831.7L724.4 825.3L731.2 825.3L733.3 831.7zM734.1 839.7L728.5 835.7L730.6 829.3L737.5 829.3L739.6 835.7zM740.3 849.7L734.8 845.7L736.9 839.3L743.7 839.3L745.8 845.7zM746.5 855.2L741 851.2L743.1 844.8L749.9 844.8L752 851.2zM752.8 857.2L747.3 853.2L749.4 846.8L756.2 846.8L758.3 853.2zM759 820.7L753.5 816.7L755.6 810.3L762.4 810.3L764.5 816.7zM765.2 794.7L759.7 790.7L761.8 784.3L768.6 784.3L770.8 790.7zM771.5 777.2L766 773.2L768.1 766.8L774.9 766.8L777 773.2zM777.7 769.4L772.2 765.4L774.3 759L781.1 759L783.2 765.4zM783.9 758.8L778.4 754.8L780.5 748.4L787.4 748.4L789.5 754.8zM790.2 734.4L784.7 730.4L786.8 724L793.6 724L795.7 730.4zM796.4 713.2L790.9 709.2L793 702.8L799.8 702.8L801.9 709.2zM802.7 703.9L797.1 699.9L799.3 693.5L806.1 693.5L808.2 699.9zM808.9 701.9L803.4 697.9L805.5 691.5L812.3 691.5L814.4 697.9zM815.1 707.6L809.6 703.6L811.7 697.2L818.5 697.2L820.6 703.6zM821.4 721.4L815.9 717.4L818 711L824.8 711L826.9 717.4zM827.6 789.6L822.1 785.6L824.2 779.2L831 779.2L833.1 785.6zM833.8 862.6L828.3 858.6L830.4 852.2L837.3 852.2L839.4 858.6zM840.1 857.6L834.6 853.6L836.7 847.2L843.5 847.2L845.6 853.6zM846.3 853.6L840.8 849.6L842.9 843.2L849.7 843.2L851.8 849.6zM852.6 849.2L847 845.2L849.1 838.8L856 838.8L858.1 845.2zM858.8 861.6L853.3 857.6L855.4 851.2L862.2 851.2L864.3 857.6zM865 870.6L859.5 866.6L861.6 860.2L868.4 860.2L870.5 866.6zM871.3 866.6L865.7 862.6L867.9 856.2L874.7 856.2L876.8 862.6zM877.5 835.6L872 831.6L874.1 825.2L880.9 825.2L883 831.6zM883.7 803.2L878.2 799.2L880.3 792.8L887.1 792.8L889.3 799.2zM890 769.6L884.5 765.6L886.6 759.2L893.4 759.2L895.5 765.6zM896.2 725.8L890.7 721.8L892.8 715.4L899.6 715.4L901.7 721.8zM902.4 700.6L896.9 696.6L899 690.2L905.9 690.2L908 696.6zM908.7 713.6L903.2 709.6L905.3 703.2L912.1 703.2L914.2 709.6zM914.9 727.6L909.4 723.6L911.5 717.2L918.3 717.2L920.4 723.6zM921.2 740.6L915.6 736.6L917.7 730.2L924.6 730.2L926.7 736.6zM927.4 709.6L921.9 705.6L924 699.2L930.8 699.2L932.9 705.6zM933.6 731.6L928.1 727.6L930.2 721.2L937 721.2L939.1 727.6zM939.9 696.6L934.3 692.6L936.5 686.2L943.3 686.2L945.4 692.6zM946.1 688.6L940.6 684.6L942.7 678.2L949.5 678.2L951.6 684.6zM952.3 642.6L946.8 638.6L948.9 632.2L955.7 632.2L957.9 638.6zM958.6 620.6L953.1 616.6L955.2 610.2L962 610.2L964.1 616.6zM964.8 632.6L959.3 628.6L961.4 622.2L968.2 622.2L970.3 628.6zM971 663.8L965.5 659.8L967.6 653.4L974.5 653.4L976.6 659.8zM977.3 634.6L971.8 630.6L973.9 624.2L980.7 624.2L982.8 630.6zM983.5 711.8L978 707.8L980.1 701.4L986.9 701.4L989 707.8zM989.8 822.6L984.2 818.6L986.3 812.2L993.2 812.2L995.3 818.6zM996 806.6L990.5 802.6L992.6 796.2L999.4 796.2L1001.5 802.6zM1002.2 681.8L996.7 677.8L998.8 671.4L1005.6 671.4L1007.7 677.8zM1020.9 655.6L1015.4 651.6L1017.5 645.2L1024.3 645.2L1026.5 651.6zM1039.6 729.6L1034.1 725.6L1036.2 719.2L1043.1 719.2L1045.2 725.6zM1058.4 744.8L1052.8 740.8L1055 734.4L1061.8 734.4L1063.9 740.8zM1077.1 750.8L1071.6 746.8L1073.7 740.4L1080.5 740.4L1082.6 746.8zM1095.8 742.6L1090.3 738.6L1092.4 732.2L1099.2 732.2L1101.3 738.6zM1114.5 731.6L1109 727.6L1111.1 721.2L1117.9 721.2L1120 727.6zM1133.2 773.6L1127.7 769.6L1129.8 763.2L1136.6 763.2L1138.7 769.6zM1151.9 735.6L1146.4 731.6L1148.5 725.2L1155.3 725.2L1157.4 731.6zM1170.6 744.8L1165.1 740.8L1167.2 734.4L1174 734.4L1176.1 740.8zM1189.3 792.6L1183.8 788.6L1185.9 782.2L1192.7 782.2L1194.8 788.6zM1208 818.4L1202.5 814.4L1204.6 808L1211.4 808L1213.6 814.4zM1226.7 826.7L1221.2 822.7L1223.3 816.3L1230.2 816.3L1232.3 822.7zM1245.5 813.6L1239.9 809.6L1242 803.2L1248.9 803.2L1251 809.6zM1264.2 829.6L1258.7 825.6L1260.8 819.2L1267.6 819.2L1269.7 825.6zM1282.9 862.6L1277.4 858.6L1279.5 852.2L1286.3 852.2L1288.4 858.6zM1301.6 880.7L1296.1 876.7L1298.2 870.3L1305 870.3L1307.1 876.7zM1320.3 861.7L1314.8 857.7L1316.9 851.3L1323.7 851.3L1325.8 857.7zM1339 823L1333.5 819L1335.6 812.6L1342.4 812.6L1344.5 819zM1357.7 748.7L1352.2 744.7L1354.3 738.3L1361.1 738.3L1363.2 744.7zM1376.4 732.9L1370.9 728.9L1373 722.5L1379.8 722.5L1381.9 728.9zM1395.1 735.7L1389.6 731.7L1391.7 725.3L1398.5 725.3L1400.7 731.7zM1413.8 738.8L1408.3 734.8L1410.4 728.4L1417.3 728.4L1419.4 734.8zM1432.6 705.9L1427 701.9L1429.1 695.5L1436 695.5L1438.1 701.9zM1451.3 744.8L1445.7 740.8L1447.9 734.4L1454.7 734.4L1456.8 740.8z" fill="#87ceeb"/>
<path d="M1389 324.6h11M1394.5 319.1v11M1389 319.1l11 11M1389 330.1l11 -11M254.6 736h11M260.1 730.5v11M254.6 730.5l11 11M254.6 741.5l11 -11M260.8 744h11M266.3 738.5v11M260.8 738.5l11 11M260.8 749.5l11 -11M267.1 751h11M272.6 745.5v11M267.1 745.5l11 11M267.1 756.5l11 -11M273.3 754h11M278.8 748.5v11M273.3 748.5l11 11M273.3 759.5l11 -11M279.5 760.5h11M285 755v11M279.5 755l11 11M279.5 766l11 -11M285.8 771h11M291.3 765.5v11M285.8 765.5l11 11M285.8 776.5l11 -11M292 774h11M297.5 768.5v11M292 768.5l11 11M292 779.5l11 -11M298.2 777h11M303.7 771.5v11M298.2 771.5l11 11M298.2 782.5l11 -11M304.5 776h11M310 770.5v11M304.5 770.5l11 11M304.5 781.5l11 -11M310.7 781h11M316.2 775.5v11M310.7 775.5l11 11M310.7 786.5l11 -11M316.9 782.5h11M322.4 777v11M316.9 777l11 11M316.9 788l11 -11M323.2 786h11M328.7 780.5v11M323.2 780.5l11 11M323.2 791.5l11 -11M329.4 792.5h11M334.9 787v11M329.4 787l11 11M329.4 798l11 -11M335.7 804h11M341.2 798.5v11M335.7 798.5l11 11M335.7 809.5l11 -11M341.9 810h11M347.4 804.5v11M341.9 804.5l11 11M341.9 815.5l11 -11M348.1 819h11M353.6 813.5v11M348.1 813.5l11 11M348.1 824.5l11 -11M354.4 829.5h11M359.9 824v11M354.4 824l11 11M354.4 835l11 -11M360.6 838h11M366.1 832.5v11M360.6 832.5l11 11M360.6 843.5l11 -11M366.8 842h11M372.3 836.5v11M366.8 836.5l11 11M366.8 847.5l11 -11M373.1 847h11M378.6 841.5v11M373.1 841.5l11 11M373.1 852.5l11 -11M379.3 847.2h11M384.8 841.7v11M379.3 841.7l11 11M379.3 852.7l11 -11M385.5 849h11M391 843.5v11M385.5 843.5l11 11M385.5 854.5l11 -11M391.8 851.5h11M397.3 846v11M391.8 846l11 11M391.8 857l11 -11M398 853.5h11M403.5 848v11M398 848l11 11M398 859l11 -11M404.3 853.5h11M409.8 848v11M404.3 848l11 11M404.3 859l11 -11M410.5 860.5h11M416 855v11M410.5 855l11 11M410.5 866l11 -11M416.7 860h11M422.2 854.5v11M416.7 854.5l11 11M416.7 865.5l11 -11M423 862h11M428.5 856.5v11M423 856.5l11 11M423 867.5l11 -11M429.2 863h11M434.7 857.5v11M429.2 857.5l11 11M429.2 868.5l11 -11M435.4 863h11M440.9 857.5v11M435.4 857.5l11 11M435.4 868.5l11 -11M441.7 861h11M447.2 855.5v11M441.7 855.5l11 11M441.7 866.5l11 -11M447.9 861h11M453.4 855.5v11M447.9 855.5l11 11M447.9 866.5l11 -11M454.1 857h11M459.6 851.5v11M454.1 851.5l11 11M454.1 862.5l11 -11M460.4 851h11M465.9 845.5v11M460.4 845.5l11 11M460.4 856.5l11 -11M466.6 845h11M472.1 839.5v11M466.6 839.5l11 11M466.6 850.5l11 -11M472.9 839h11M478.4 833.5v11M472.9 833.5l11 11M472.9 844.5l11 -11M491.6 827.5h11M497.1 822v11M491.6 822l11 11M491.6 833l11 -11M510.3 810.5h11M515.8 805v11M510.3 805l11 11M510.3 816l11 -11M529 830.5h11M534.5 825v11M529 825l11 11M529 836l11 -11M547.7 849h11M553.2 843.5v11M547.7 843.5l11 11M547.7 854.5l11 -11M566.4 852.5h11M571.9 847v11M566.4 847l11 11M566.4 858l11 -11M585.1 854.5h11M590.6 849v11M585.1 849l11 11M585.1 860l11 -11M603.8 849h11M609.3 843.5v11M603.8 843.5l11 11M603.8 854.5l11 -11M622.5 800h11M628 794.5v11M622.5 794.5l11 11M622.5 805.5l11 -11M641.2 758.4h11M646.7 752.9v11M641.2 752.9l11 11M641.2 763.9l11 -11M660 738.4h11M665.5 732.9v11M660 732.9l11 11M660 743.9l11 -11M678.7 781h11M684.2 775.5v11M678.7 775.5l11 11M678.7 786.5l11 -11M697.4 808.5h11M702.9 803v11M697.4 803l11 11M697.4 814l11 -11M716.1 810.5h11M721.6 805v11M716.1 805l11 11M716.1 816l11 -11M734.8 815.5h11M740.3 810v11M734.8 810l11 11M734.8 821l11 -11M753.5 790.5h11M759 785v11M753.5 785l11 11M753.5 796l11 -11M772.2 735.6h11M777.7 730.1v11M772.2 730.1l11 11M772.2 741.1l11 -11M790.9 708.4h11M796.4 702.9v11M790.9 702.9l11 11M790.9 713.9l11 -11M809.6 702.4h11M815.1 696.9v11M809.6 696.9l11 11M809.6 707.9l11 -11M828.3 743.6h11M833.8 738.1v11M828.3 738.1l11 11M828.3 749.1l11 -11M847.1 779.4h11M852.6 773.9v11M847.1 773.9l11 11M847.1 784.9l11 -11M865.8 802.4h11M871.3 796.9v11M865.8 796.9l11 11M865.8 807.9l11 -11M884.5 807.4h11M890 801.9v11M884.5 801.9l11 11M884.5 812.9l11 -11M903.2 798.4h11M908.7 792.9v11M903.2 792.9l11 11M903.2 803.9l11 -11M921.9 764.4h11M927.4 758.9v11M921.9 758.9l11 11M921.9 769.9l11 -11M940.6 742.8h11M946.1 737.3v11M940.6 737.3l11 11M940.6 748.3l11 -11M959.3 727.4h11M964.8 721.9v11M959.3 721.9l11 11M959.3 732.9l11 -11M978 760.5h11M983.5 755v11M978 755l11 11M978 766l11 -11M996.7 788.2h11M1002.2 782.7v11M996.7 782.7l11 11M996.7 793.7l11 -11M1015.4 793.2h11M1020.9 787.7v11M1015.4 787.7l11 11M1015.4 798.7l11 -11M1034.1 799.4h11M1039.6 793.9v11M1034.1 793.9l11 11M1034.1 804.9l11 -11M1052.9 796.5h11M1058.4 791v11M1052.9 791l11 11M1052.9 802l11 -11M1071.6 781.4h11M1077.1 775.9v11M1071.6 775.9l11 11M1071.6 786.9l11 -11M1090.3 766.6h11M1095.8 761.1v11M1090.3 761.1l11 11M1090.3 772.1l11 -11M1109 757.6h11M1114.5 752.1v11M1109 752.1l11 11M1109 763.1l11 -11M1127.7 791.5h11M1133.2 786v11M1127.7 786l11 11M1127.7 797l11 -11M1146.4 826.4h11M1151.9 820.9v11M1146.4 820.9l11 11M1146.4 831.9l11 -11M1165.1 836.4h11M1170.6 830.9v11M1165.1 830.9l11 11M1165.1 841.9l11 -11M1183.8 845.4h11M1189.3 839.9v11M1183.8 839.9l11 11M1183.8 850.9l11 -11M1202.5 839.4h11M1208 833.9v11M1202.5 833.9l11 11M1202.5 844.9l11 -11M1221.2 810.4h11M1226.7 804.9v11M1221.2 804.9l11 11M1221.2 815.9l11 -11M1240 796.4h11M1245.5 790.9v11M1240 790.9l11 11M1240 801.9l11 -11M1258.7 781.4h11M1264.2 775.9v11M1258.7 775.9l11 11M1258.7 786.9l11 -11M1277.4 807.4h11M1282.9 801.9v11M1277.4 801.9l11 11M1277.4 812.9l11 -11M1296.1 828.5h11M1301.6 823v11M1296.1 823l11 11M1296.1 834l11 -11M1314.8 836.6h11M1320.3 831.1v11M1314.8 831.1l11 11M1314.8 842.1l11 -11M1333.5 837.6h11M1339 832.1v11M1333.5 832.1l11 11M1333.5 843.1l11 -11M1352.2 829.6h11M1357.7 824.1v11M1352.2 824.1l11 11M1352.2 835.1l11 -11M1370.9 807.6h11M1376.4 802.1v11M1370.9 802.1l11 11M1370.9 813.1l11 -11M1389.6 796.7h11M1395.1 791.2v11M1389.6 791.2l11 11M1389.6 802.2l11 -11M1408.3 798.5h11M1413.8 793v11M1408.3 793l11 11M1408.3 804l11 -11M1427.1 818.5h11M1432.6 813v11M1427.1 813l11 11M1427.1 824l11 -11M1445.8 838.4h11M1451.3 832.9v11M1445.8 832.9l11 11M1445.8 843.9l11 -11" fill="none" stroke="#ffa500" stroke-width="1.05"/>
<rect x="110.4" y="98.4" width="1347.1" height="796" fill="none" stroke="#000" stroke-width="1.3"/>
<g font-size="23.5" font-weight="bold" text-anchor="middle">
<text x="783.7" y="58" textLength="540.5" lengthAdjust="spacingAndGlyphs">The Grid - Wind gust - 04/17/2026 06z forecast</text>
<text x="784.3" y="985" textLength="56.5" lengthAdjust="spacingAndGlyphs">Date</text>
<text transform="translate(36.7,496.8) rotate(-90)" textLength="258.5" lengthAdjust="spacingAndGlyphs">20-ft wind gust (mph)</text>
</g>
</svg></body></html>
